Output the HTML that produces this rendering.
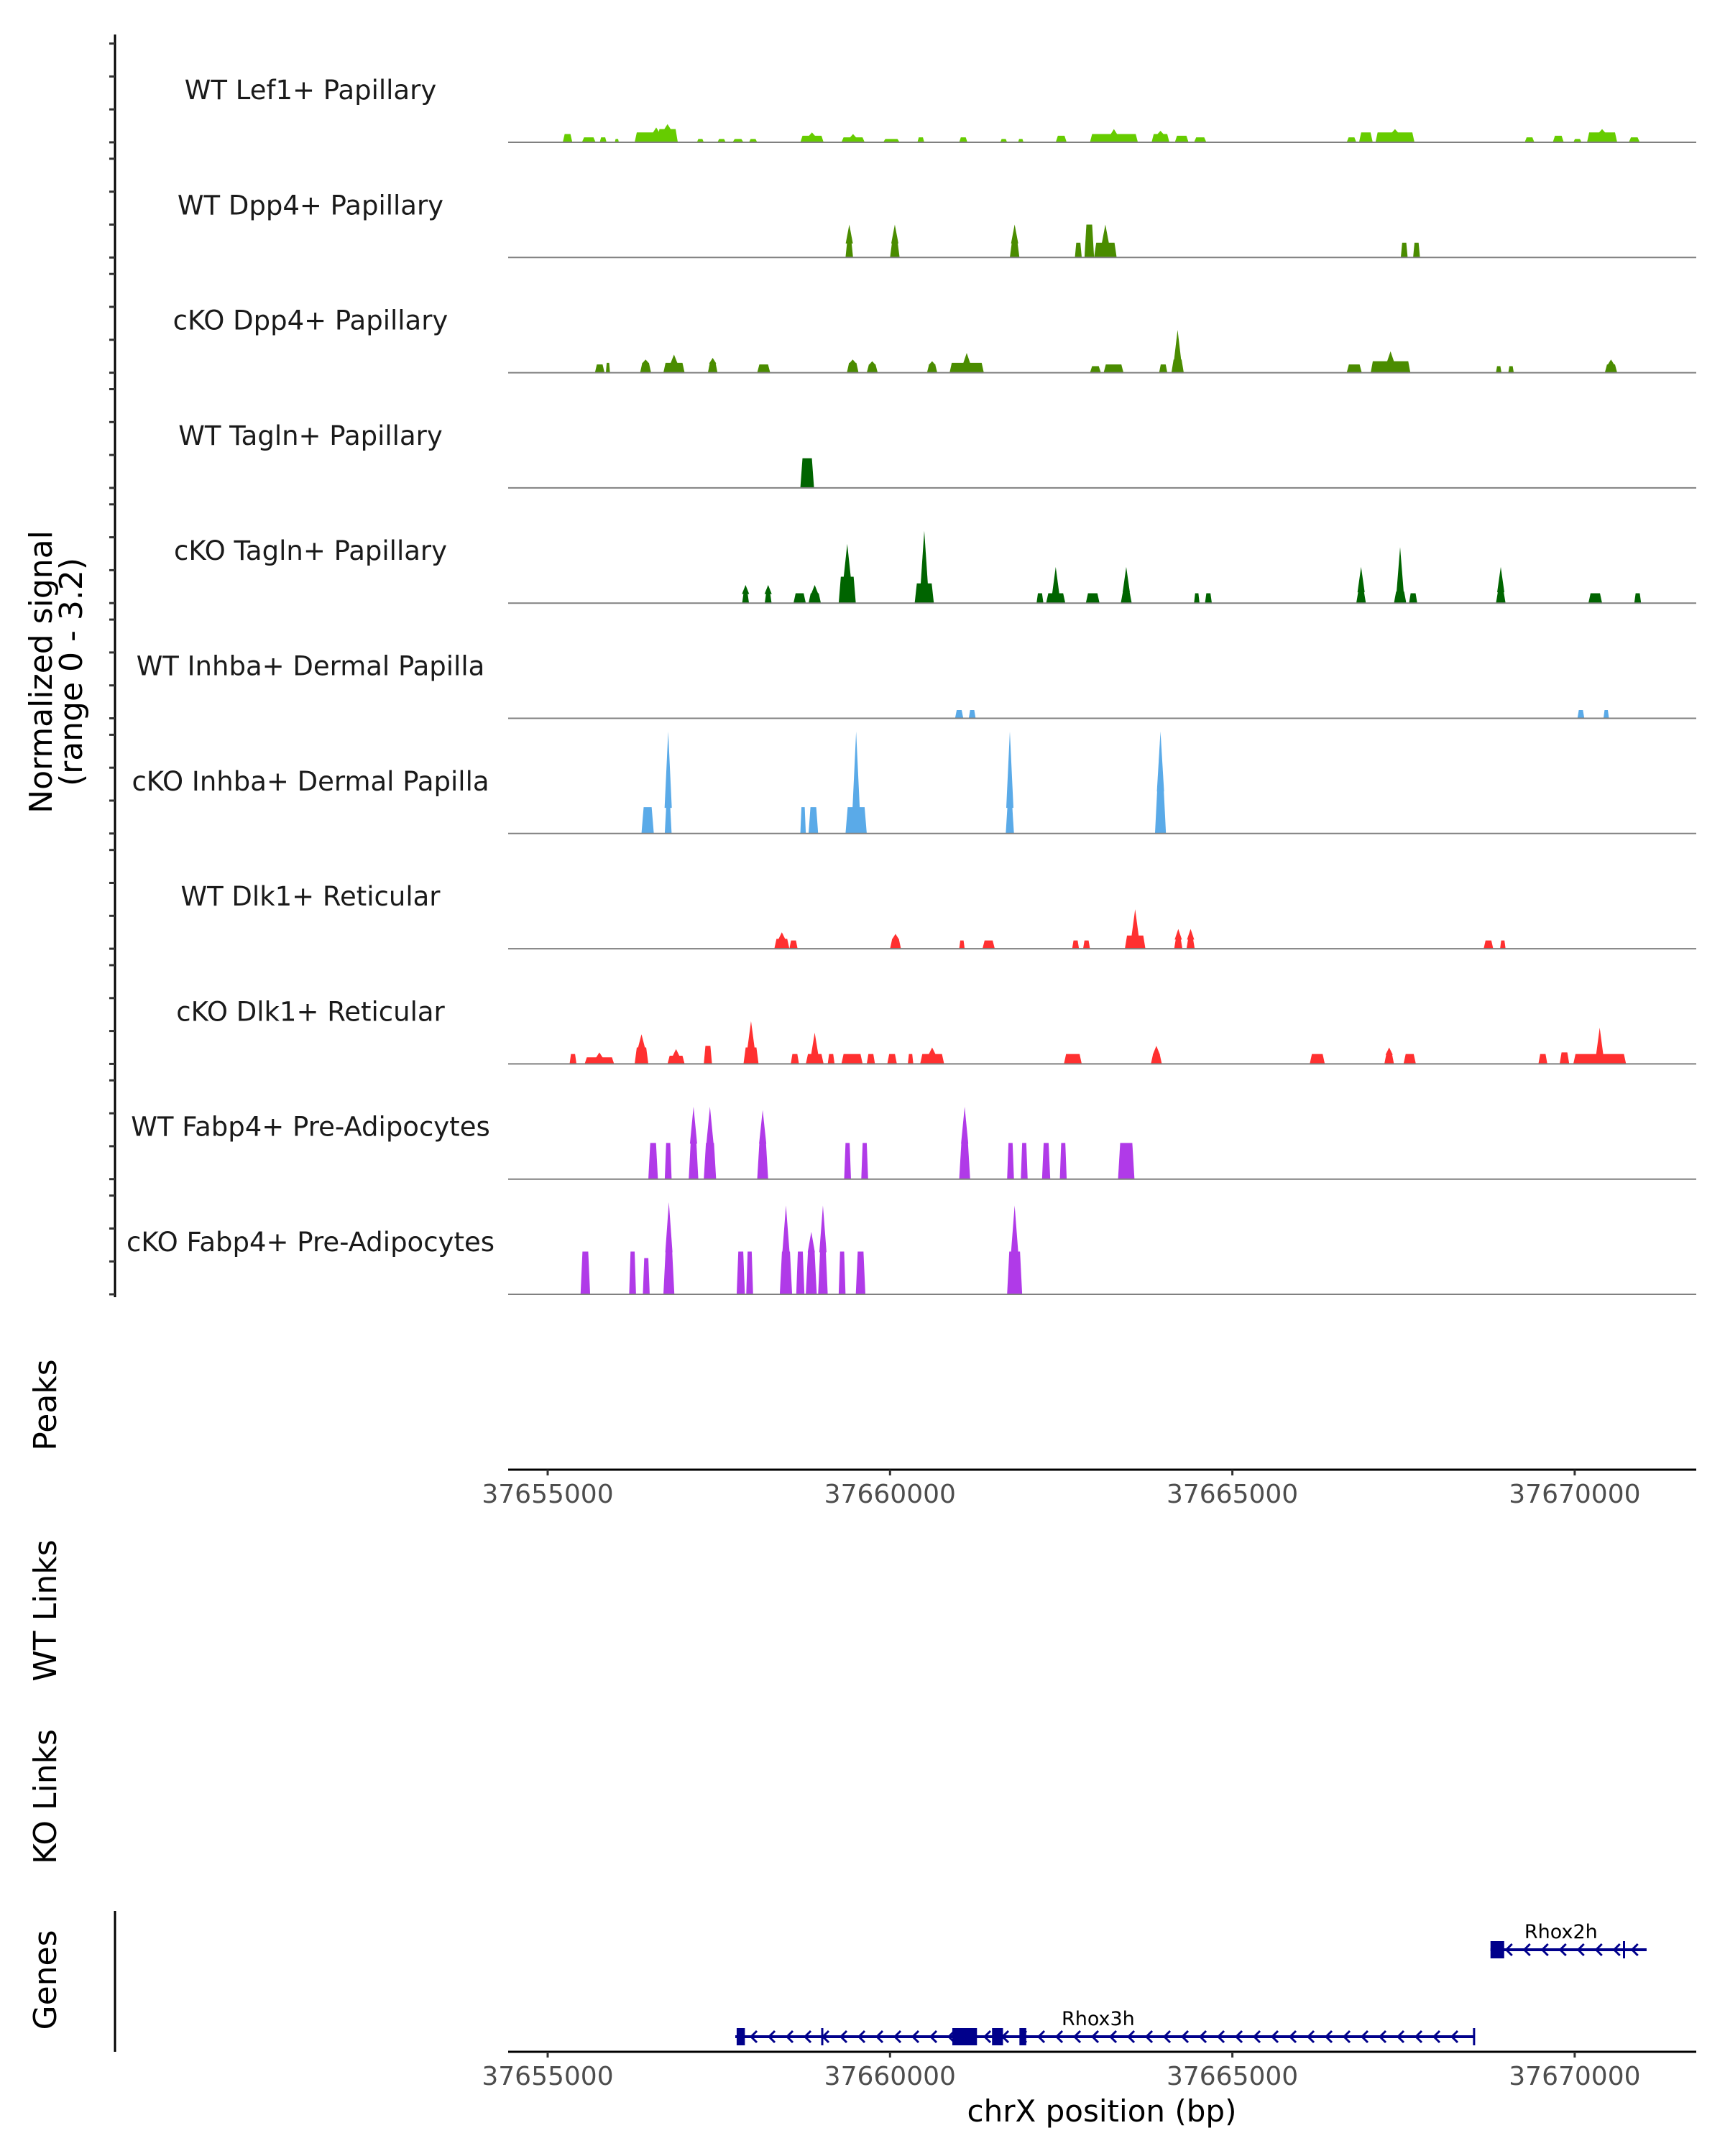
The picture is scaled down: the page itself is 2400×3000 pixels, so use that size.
<!DOCTYPE html>
<html><head><meta charset="utf-8"><style>
html,body{margin:0;padding:0;background:#fff}
svg{display:block}
text{font-family:"DejaVu Sans","Liberation Sans",sans-serif}
</style></head><body>
<svg id="chart" width="2400" height="3000" viewBox="0 0 2400 3000" xmlns="http://www.w3.org/2000/svg">
<g id="axes"></g>
<g id="tracks"></g>
<g id="genes"></g>
</svg>
<script>
// ---- data ----
const trackNames = ["WT Lef1+ Papillary","WT Dpp4+ Papillary","cKO Dpp4+ Papillary","WT Tagln+ Papillary","cKO Tagln+ Papillary","WT Inhba+ Dermal Papilla","cKO Inhba+ Dermal Papilla","WT Dlk1+ Reticular","cKO Dlk1+ Reticular","WT Fabp4+ Pre-Adipocytes","cKO Fabp4+ Pre-Adipocytes"];
const trackColors = ["#66cc00","#4a8c00","#4a8c00","#006400","#006400","#5aaae8","#5aaae8","#ff3030","#ff3030","#b03ae8","#b03ae8"];
// peaks: [start kb, end kb, height, spike height(optional)]
const peaksLef1WT = [[37655.22,37655.36,0.25],[37655.50,37655.70,0.15],[37655.76,37655.86,0.15],[37655.98,37656.04,0.1],[37656.27,37656.90,0.3,0.45],[37656.60,37656.90,0.4,0.55],[37657.18,37657.28,0.1],[37657.48,37657.60,0.1],[37657.70,37657.86,0.1],[37657.94,37658.06,0.1],[37658.69,37659.03,0.2,0.3],[37659.29,37659.63,0.15,0.25],[37659.90,37660.14,0.1],[37660.40,37660.50,0.15],[37661.01,37661.13,0.15],[37661.61,37661.71,0.1],[37661.87,37661.95,0.1],[37662.42,37662.58,0.2],[37662.92,37663.62,0.25,0.4],[37663.82,37664.08,0.25,0.35],[37664.16,37664.36,0.2],[37664.44,37664.62,0.15],[37666.67,37666.81,0.15],[37666.85,37667.05,0.3],[37667.09,37667.66,0.3,0.4],[37669.27,37669.41,0.15],[37669.68,37669.84,0.2],[37669.98,37670.10,0.1],[37670.18,37670.62,0.3,0.4],[37670.79,37670.95,0.15]];
const peaksDpp4WT = [[37659.35,37659.46,0.45,1.0],[37660.00,37660.14,0.45,1.0],[37661.75,37661.89,0.45,1.0],[37662.70,37662.80,0.45],[37662.84,37662.98,1.0],[37662.98,37663.31,0.45,1.0],[37667.46,37667.56,0.45],[37667.64,37667.74,0.45]];
const peaksDpp4KO = [[37655.69,37655.83,0.25],[37655.85,37655.91,0.3],[37656.35,37656.51,0.3,0.4],[37656.69,37657.00,0.3,0.55],[37657.34,37657.48,0.3,0.45],[37658.06,37658.25,0.25],[37659.37,37659.54,0.3,0.4],[37659.66,37659.82,0.25,0.35],[37660.54,37660.69,0.25,0.35],[37660.87,37661.37,0.3,0.6],[37662.92,37663.08,0.2],[37663.12,37663.41,0.25],[37663.93,37664.05,0.25],[37664.11,37664.29,0.4,1.3],[37666.67,37666.89,0.25],[37667.02,37667.60,0.35,0.65],[37668.85,37668.93,0.2],[37669.03,37669.11,0.2],[37670.44,37670.62,0.25,0.4]];
const peaksTaglnWT = [[37658.69,37658.89,0.9]];
const peaksTaglnKO = [[37657.84,37657.94,0.3,0.55],[37658.17,37658.27,0.3,0.55],[37658.59,37658.77,0.3],[37658.81,37658.99,0.3,0.55],[37659.25,37659.50,0.8,1.8],[37660.36,37660.64,0.6,2.2],[37662.14,37662.24,0.3],[37662.28,37662.56,0.3,1.1],[37662.86,37663.06,0.3],[37663.37,37663.53,0.35,1.1],[37664.44,37664.52,0.3],[37664.60,37664.70,0.3],[37666.81,37666.95,0.35,1.1],[37667.36,37667.54,0.35,1.7],[37667.58,37667.70,0.3],[37668.85,37668.99,0.35,1.1],[37670.20,37670.40,0.3],[37670.87,37670.97,0.3]];
const peaksInhbaWT = [[37660.95,37661.07,0.25],[37661.15,37661.25,0.25],[37670.04,37670.14,0.25],[37670.42,37670.50,0.25]];
const peaksInhbaKO = [[37656.37,37656.55,0.8],[37656.71,37656.81,0.8,3.1],[37658.69,37658.77,0.8],[37658.81,37658.95,0.8],[37659.35,37659.66,0.8,3.1],[37661.69,37661.81,0.8,3.1],[37663.87,37664.03,1.3,3.1]];
const peaksDlk1WT = [[37658.31,37658.53,0.3,0.5],[37658.53,37658.65,0.25],[37660.00,37660.16,0.3,0.45],[37661.01,37661.09,0.25],[37661.35,37661.53,0.25],[37662.66,37662.76,0.25],[37662.82,37662.92,0.25],[37663.43,37663.73,0.4,1.2],[37664.15,37664.27,0.3,0.6],[37664.33,37664.45,0.3,0.6],[37668.67,37668.81,0.25],[37668.91,37668.99,0.25]];
const peaksDlk1KO = [[37655.32,37655.42,0.3],[37655.54,37655.97,0.2,0.35],[37656.27,37656.47,0.5,0.9],[37656.75,37657.00,0.25,0.45],[37657.28,37657.40,0.55],[37657.86,37658.08,0.5,1.3],[37658.55,37658.67,0.3],[37658.77,37659.03,0.3,0.95],[37659.09,37659.19,0.3],[37659.29,37659.60,0.3],[37659.66,37659.78,0.3],[37659.96,37660.10,0.3],[37660.26,37660.34,0.3],[37660.44,37660.79,0.3,0.5],[37662.54,37662.80,0.3],[37663.81,37663.97,0.3,0.55],[37666.13,37666.35,0.3],[37667.22,37667.36,0.3,0.5],[37667.50,37667.68,0.3],[37669.47,37669.60,0.3],[37669.78,37669.92,0.35],[37669.98,37670.75,0.3,1.1]];
const peaksFabp4WT = [[37656.47,37656.61,1.1],[37656.71,37656.81,1.1],[37657.06,37657.20,1.1,2.2],[37657.28,37657.46,1.1,2.2],[37658.06,37658.22,1.1,2.1],[37659.33,37659.43,1.1],[37659.58,37659.68,1.1],[37661.01,37661.17,1.1,2.2],[37661.71,37661.81,1.1],[37661.91,37662.01,1.1],[37662.22,37662.34,1.1],[37662.48,37662.58,1.1],[37663.33,37663.57,1.1]];
const peaksFabp4KO = [[37655.48,37655.62,1.3],[37656.19,37656.29,1.3],[37656.39,37656.49,1.1],[37656.69,37656.85,1.3,2.8],[37657.76,37657.88,1.3],[37657.90,37658.00,1.3],[37658.39,37658.57,1.3,2.7],[37658.63,37658.75,1.3],[37658.77,37658.93,1.3,1.9],[37658.95,37659.09,1.3,2.7],[37659.25,37659.35,1.3],[37659.50,37659.64,1.3],[37661.71,37661.93,1.3,2.7]];
const trackPeaks = [peaksLef1WT,peaksDpp4WT,peaksDpp4KO,peaksTaglnWT,peaksTaglnKO,peaksInhbaWT,peaksInhbaKO,peaksDlk1WT,peaksDlk1KO,peaksFabp4WT,peaksFabp4KO];
const xTicks = [37655000,37660000,37665000,37670000];
const xTickLabels = ["37655000","37660000","37665000","37670000"];
const geneNames = ["Rhox3h","Rhox2h"];
const geneSpans = [[37657.74,37668.53],[37668.77,37671.05]];
const geneExons = [[[37657.76,37657.88],[37660.91,37661.27],[37661.49,37661.65],[37661.89,37661.99]],[[37668.77,37668.97]]];
const geneMarks = [[37659.01,37668.53],[37670.72]];
const geneLabelPos = [37663.04,37669.8];

// ---- scales ----
const NS="http://www.w3.org/2000/svg";
const X0=707,X1=2360;
function xs(kb){return 762+(kb-37655)*95.26;}
const trackBase0=198, trackStep=160.3, unitH=45.8;
function ys(i,v){return trackBase0+i*trackStep - v*unitH;}
function mk(tag,attrs,parent){const e=document.createElementNS(NS,tag);for(const k in attrs)e.setAttribute(k,attrs[k]);parent.appendChild(e);return e;}
const axes=document.getElementById('axes'),tracks=document.getElementById('tracks'),genes=document.getElementById('genes');

let el=mk('line',{x1:160,y1:48,x2:160,y2:1805,stroke:'#000','stroke-width':3},axes);


for(let i=0;i<11;i++){for(let k=0;k<4;k++){const y=ys(i,k);
 el=mk('line',{x1:152,y1:y,x2:160,y2:y,stroke:'#333','stroke-width':3},axes);
 
 }}
function ytitle(lines,cy,name){const t=mk('text',{transform:`translate(78,${cy}) rotate(-90)`,'text-anchor':'middle','font-size':44,fill:'#000'},axes);
 
 
 lines.forEach((s,j)=>{const ts=mk('tspan',{x:0,dy:j==0?(lines.length>1?-6:0):42},t);ts.textContent=s;});}
ytitle(["Normalized signal","(range 0 - 3.2)"],935,'y-axis-title');
ytitle(["Peaks"],1955,'peaks-title');
ytitle(["WT Links"],2241,'wt-links-title');
ytitle(["KO Links"],2500,'ko-links-title');
ytitle(["Genes"],2755,'genes-title');

trackNames.forEach((nm,i)=>{
 const base=ys(i,0);
 let t=mk('text',{x:432,y:base-60,'text-anchor':'middle','font-size':37,fill:'#1a1a1a'},tracks);
 t.textContent=nm;
 
 
 trackPeaks[i].forEach(p=>{
  const s=xs(p[0]),e=xs(p[1]),h=ys(i,p[2]);const w=e-s,tp=Math.min(3,w*0.2);
  let pts=`${s},${base} ${s+tp},${h} ${e-tp},${h} ${e},${base}`;
  const poly=mk('polygon',{points:pts,fill:trackColors[i]},tracks);
  
  
  if(p[3]){const m=(s+e)/2;const sp=mk('polygon',{points:`${m-5},${h+1} ${m},${ys(i,p[3])} ${m+5},${h+1}`,fill:trackColors[i]},tracks);
   
   }
 });
 const bl=mk('line',{x1:X0,y1:base,x2:X1,y2:base,stroke:'#808080','stroke-width':2},tracks);
 
 
});

function xaxis(y,name){const l=mk('line',{x1:X0,y1:y,x2:X1,y2:y,stroke:'#000','stroke-width':3},axes);
 
 
 xTicks.forEach((v,j)=>{const x=xs(v/1000);
  const tk=mk('line',{x1:x,y1:y,x2:x,y2:y+8,stroke:'#333','stroke-width':3},axes);
  
  
  const t=mk('text',{x:x,y:y+46,'text-anchor':'middle','font-size':36,fill:'#4d4d4d'},axes);t.textContent=xTickLabels[j];
  
  });}
xaxis(2045,'peaks-x-axis');
xaxis(2855,'genes-x-axis');
el=mk('line',{x1:160,y1:2659,x2:160,y2:2855,stroke:'#000','stroke-width':3},axes);


el=mk('text',{x:1533,y:2952,'text-anchor':'middle','font-size':42,fill:'#000'},axes);el.textContent='chrX position (bp)';



const geneY=[2834,2713];
geneNames.forEach((g,i)=>{
 const y=geneY[i],s=xs(geneSpans[i][0]),e=xs(geneSpans[i][1]);
 const gg=mk('g',{},genes);
 
 
 mk('line',{x1:s,y1:y,x2:e,y2:y,stroke:'#00008b','stroke-width':4},gg);
 for(let x=s+25;x<e-8;x+=25){mk('polyline',{points:`${x+5},${y-8} ${x-3},${y} ${x+5},${y+8}`,fill:'none',stroke:'#00008b','stroke-width':3},gg);}
 geneExons[i].forEach(ex=>{mk('rect',{x:xs(ex[0]),y:y-12,width:Math.max(8,xs(ex[1])-xs(ex[0])),height:24,fill:'#00008b'},gg);});
 geneMarks[i].forEach(m=>{mk('line',{x1:xs(m),y1:y-12,x2:xs(m),y2:y+12,stroke:'#00008b','stroke-width':3},gg);});
 const t=mk('text',{x:xs(geneLabelPos[i]),y:y-16,'text-anchor':'middle','font-size':27,fill:'#000'},gg);t.textContent=g;
});
</script>
</body></html>
